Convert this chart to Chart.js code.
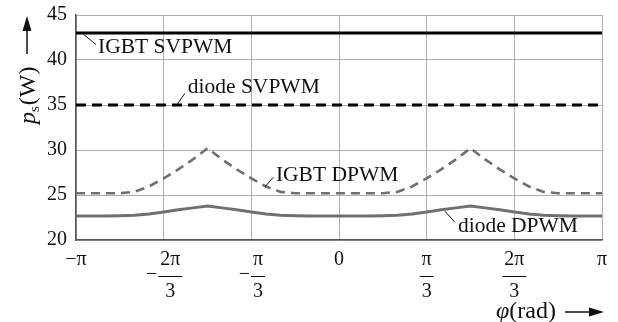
<!DOCTYPE html>
<html>
<head>
<meta charset="utf-8">
<script src="https://cdn.jsdelivr.net/npm/chart.js@4.4.1/dist/chart.umd.min.js"></script>
<style>
  html, body { margin: 0; padding: 0; background: #fff; }
  #wrap { width: 618px; height: 322px; }
</style>
</head>
<body>
<div id="wrap"><canvas id="psChart" width="618" height="322"></canvas></div>
<script>
// phase angle in degrees (-180 = -pi ... 180 = pi)
const phiDeg = [-180,-170,-160,-150,-140,-130,-120,-110,-100,-90,-80,-70,-60,-50,-40,-30,-20,-10,
                0,10,20,30,40,50,60,70,80,90,100,110,120,130,140,150,160,170,180];
const igbtDpwm = [25.2,25.2,25.2,25.2,25.35,25.95,26.85,27.85,28.95,30.2,28.95,27.85,26.85,25.95,25.35,25.2,25.2,25.2,
                  25.2,25.2,25.2,25.2,25.35,25.95,26.85,27.85,28.95,30.2,28.95,27.85,26.85,25.95,25.35,25.2,25.2,25.2,25.2];
const diodeDpwm = [22.68,22.68,22.68,22.7,22.75,22.9,23.12,23.36,23.57,23.78,23.57,23.36,23.12,22.9,22.75,22.7,22.68,22.68,
                   22.68,22.68,22.68,22.7,22.75,22.9,23.12,23.36,23.57,23.78,23.57,23.36,23.12,22.9,22.75,22.7,22.68,22.68,22.68];
const svPhi = [-180, 180];
const igbtSvpwm = [43, 43];
const diodeSvpwm = [35, 35];

// x tick labels (pi fractions)
const xTicks = [-180, -120, -60, 0, 60, 120, 180];
const xTickSign = ['', '−', '−', '', '', '', ''];
const xTickNum = ['−π', '2π', 'π', '0', 'π', '2π', 'π'];
const xTickDen = ['', '3', '3', '', '3', '3', ''];

// curve labels with leader lines, in data units
const notes = [
  { text: 'IGBT SVPWM', from: [-175.2, 42.9], to: [-166.3, 41.7], at: [-164.9, 41.35] },
  { text: 'diode SVPWM', from: [-111, 35], to: [-105.5, 36.3], at: [-103.5, 36.95] },
  { text: 'IGBT DPWM', from: [-50.6, 25.92], to: [-45, 26.97], at: [-43.2, 27.22] },
  { text: 'diode DPWM', from: [72.5, 23.2], to: [79.4, 21.95], at: [81.4, 21.5] }
];

const serif = '"Liberation Serif", "Times New Roman", serif';
const gray = '#707070';

function pts(xs, ys) {
  return xs.map((x, i) => ({ x: x, y: ys[i] }));
}

const decor = {
  id: 'decor',
  afterDraw(chart) {
    const ctx = chart.ctx;
    const sx = chart.scales.x, sy = chart.scales.y;
    ctx.save();
    ctx.fillStyle = '#111';
    ctx.strokeStyle = '#111';

    // x tick labels
    ctx.font = '20px ' + serif;
    ctx.textBaseline = 'middle';
    ctx.textAlign = 'center';
    xTicks.forEach((v, i) => {
      const px = sx.getPixelForValue(v);
      if (!xTickDen[i]) {
        ctx.fillText(xTickNum[i], px, 260);
        return;
      }
      const nw = ctx.measureText(xTickNum[i]).width;
      const bw = nw + 4;
      const mw = xTickSign[i] ? ctx.measureText(xTickSign[i]).width + 2 : 0;
      const cx = px + mw / 2;
      ctx.fillText(xTickNum[i], cx, 260);
      ctx.fillText(xTickDen[i], cx, 292);
      ctx.lineWidth = 1;
      ctx.beginPath();
      ctx.moveTo(cx - bw / 2, 276.5);
      ctx.lineTo(cx + bw / 2, 276.5);
      ctx.stroke();
      if (xTickSign[i]) {
        ctx.textAlign = 'right';
        ctx.fillText(xTickSign[i], cx - bw / 2 - 1, 275);
        ctx.textAlign = 'center';
      }
    });

    // curve labels
    ctx.font = '21.5px ' + serif;
    ctx.textAlign = 'left';
    ctx.lineWidth = 1;
    notes.forEach(n => {
      ctx.beginPath();
      ctx.moveTo(sx.getPixelForValue(n.from[0]), sy.getPixelForValue(n.from[1]));
      ctx.lineTo(sx.getPixelForValue(n.to[0]), sy.getPixelForValue(n.to[1]));
      ctx.stroke();
      ctx.fillText(n.text, sx.getPixelForValue(n.at[0]), sy.getPixelForValue(n.at[1]));
    });

    // y axis title: p_s(W) with arrow
    ctx.save();
    ctx.translate(35, 124);
    ctx.rotate(-Math.PI / 2);
    ctx.textBaseline = 'alphabetic';
    ctx.textAlign = 'left';
    ctx.font = 'italic 24px ' + serif;
    ctx.fillText('p', 0, 0);
    let w = ctx.measureText('p').width;
    ctx.font = '15px ' + serif;
    ctx.fillText('s', w, 4);
    w += ctx.measureText('s').width + 1;
    ctx.font = '24px ' + serif;
    ctx.fillText('(W)', w, 0);
    ctx.restore();
    ctx.lineWidth = 1.5;
    ctx.beginPath();
    ctx.moveTo(27, 54);
    ctx.lineTo(27, 28);
    ctx.stroke();
    ctx.beginPath();
    ctx.moveTo(27, 16);
    ctx.lineTo(22.5, 31);
    ctx.lineTo(31.5, 31);
    ctx.closePath();
    ctx.fill();

    // x axis title: phi(rad) with arrow
    ctx.textBaseline = 'alphabetic';
    ctx.font = 'italic 24px ' + serif;
    ctx.fillText('φ', 496, 318);
    let xw = 496 + ctx.measureText('φ').width;
    ctx.font = '24px ' + serif;
    ctx.fillText('(rad)', xw, 318);
    ctx.lineWidth = 1.5;
    ctx.beginPath();
    ctx.moveTo(565, 312);
    ctx.lineTo(592, 312);
    ctx.stroke();
    ctx.beginPath();
    ctx.moveTo(604, 312);
    ctx.lineTo(589, 307.5);
    ctx.lineTo(589, 316.5);
    ctx.closePath();
    ctx.fill();
    ctx.restore();
  }
};

new Chart(document.getElementById('psChart'), {
  type: 'line',
  data: {
    datasets: [
      { label: 'IGBT SVPWM', data: pts(svPhi, igbtSvpwm), borderColor: '#000', borderWidth: 2.8 },
      { label: 'diode SVPWM', data: pts(svPhi, diodeSvpwm), borderColor: '#000', borderWidth: 2.8, borderDash: [10, 6] },
      { label: 'IGBT DPWM', data: pts(phiDeg, igbtDpwm), borderColor: gray, borderWidth: 2.6, borderDash: [9, 6] },
      { label: 'diode DPWM', data: pts(phiDeg, diodeDpwm), borderColor: gray, borderWidth: 3 }
    ]
  },
  options: {
    responsive: false,
    animation: false,
    layout: { padding: { left: 0, top: 15, right: 16, bottom: 82 } },
    elements: { point: { radius: 0 }, line: { tension: 0, fill: false } },
    plugins: { legend: { display: false }, tooltip: { enabled: false } },
    scales: {
      x: {
        type: 'linear', min: -180, max: 180,
        afterBuildTicks: (s) => { s.ticks = xTicks.map(v => ({ value: v })); },
        afterFit: (s) => { s.height = 0; s.paddingLeft = 0; s.paddingRight = 0; },
        ticks: { display: false },
        grid: { color: '#b0b0b0', lineWidth: 1, drawTicks: false },
        border: { color: '#555', width: 1.5 }
      },
      y: {
        min: 20, max: 45,
        afterFit: (s) => { s.width = 76; s.paddingTop = 0; s.paddingBottom = 0; },
        ticks: { stepSize: 5, padding: 9, color: '#111', font: { family: serif, size: 20 } },
        grid: { color: '#b0b0b0', lineWidth: 1, drawTicks: false },
        border: { color: '#555', width: 1.5 }
      }
    }
  },
  plugins: [decor]
});
</script>
</body>
</html>
